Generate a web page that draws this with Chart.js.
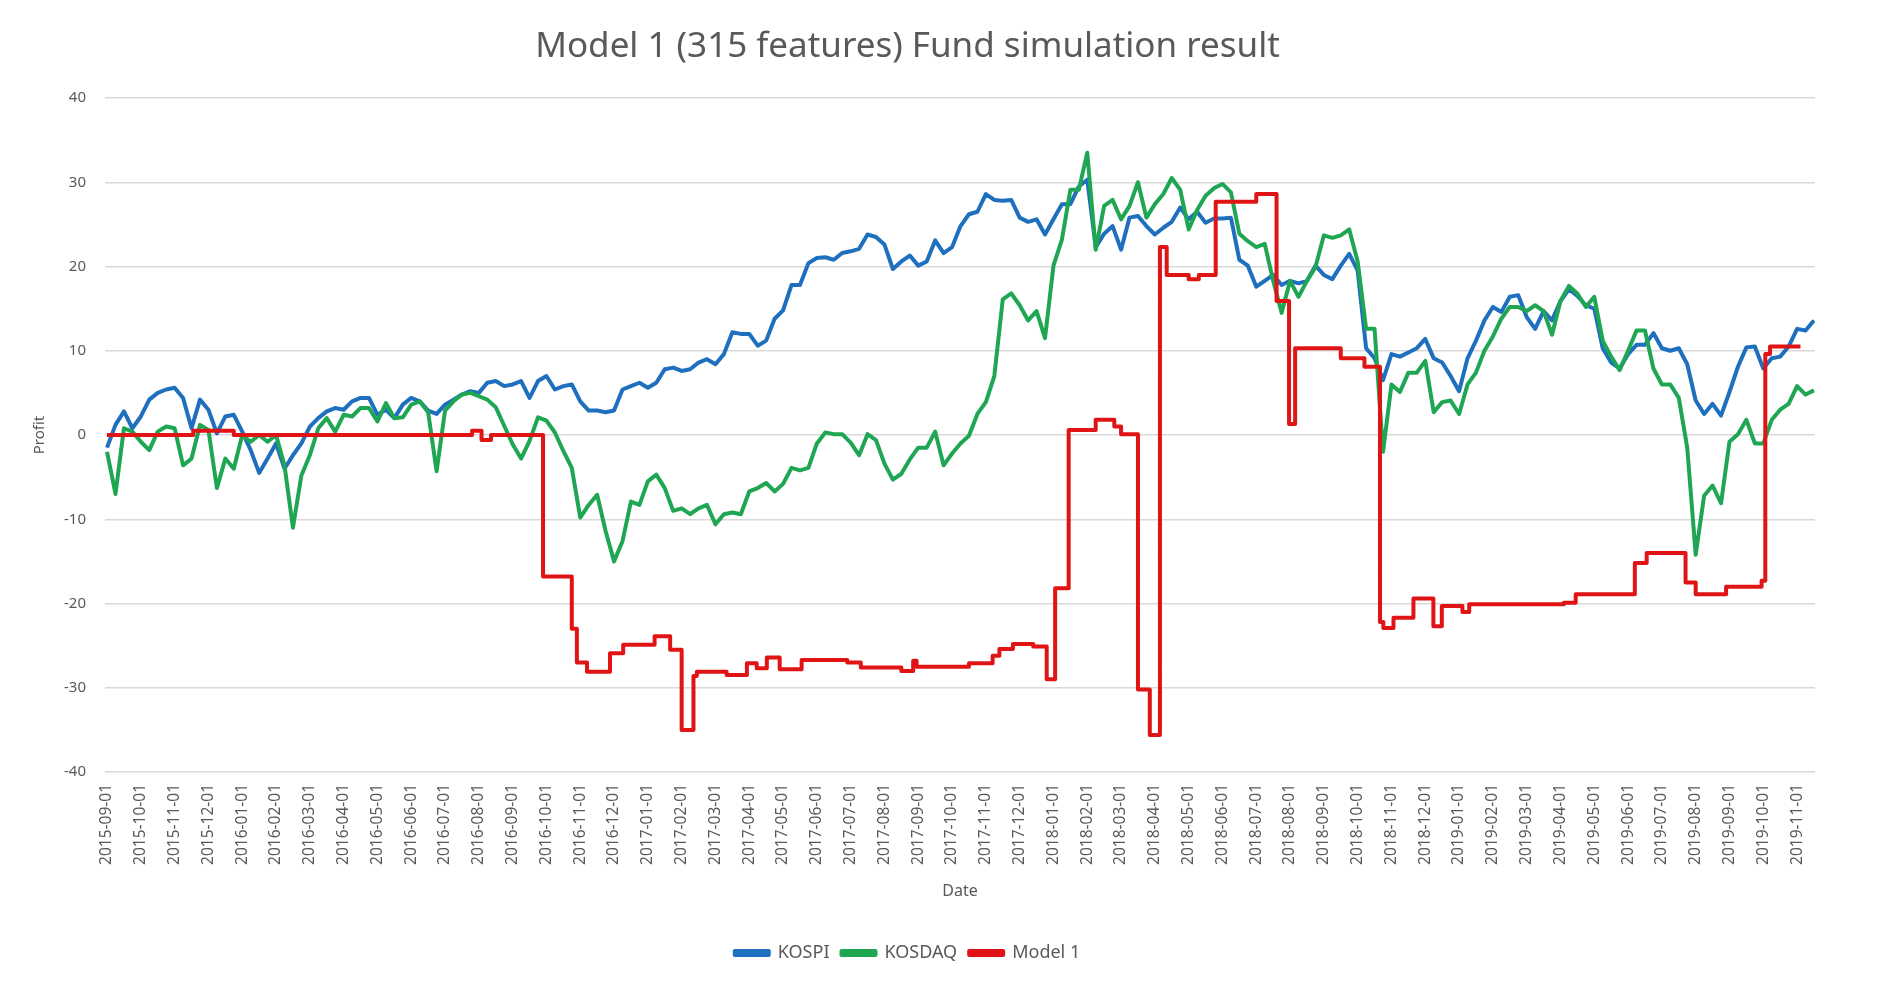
<!DOCTYPE html>
<html>
<head>
<meta charset="utf-8">
<title>Model 1 Fund simulation result</title>
<script src="https://cdn.jsdelivr.net/npm/chart.js@4.4.1/dist/chart.umd.min.js"></script>
<style>
    html, body { margin: 0; padding: 0; background: #fff; }
    #wrap { width: 1882px; height: 989px; position: relative; }
</style>
</head>
<body>
<div id="wrap"><canvas id="ctx-fund"></canvas></div>
<script>
// tick labels on the x axis, one per month
const monthLabels = [
    '2015-09-01', '2015-10-01', '2015-11-01', '2015-12-01',
    '2016-01-01', '2016-02-01', '2016-03-01', '2016-04-01', '2016-05-01', '2016-06-01',
    '2016-07-01', '2016-08-01', '2016-09-01', '2016-10-01', '2016-11-01', '2016-12-01',
    '2017-01-01', '2017-02-01', '2017-03-01', '2017-04-01', '2017-05-01', '2017-06-01',
    '2017-07-01', '2017-08-01', '2017-09-01', '2017-10-01', '2017-11-01', '2017-12-01',
    '2018-01-01', '2018-02-01', '2018-03-01', '2018-04-01', '2018-05-01', '2018-06-01',
    '2018-07-01', '2018-08-01', '2018-09-01', '2018-10-01', '2018-11-01', '2018-12-01',
    '2019-01-01', '2019-02-01', '2019-03-01', '2019-04-01', '2019-05-01', '2019-06-01',
    '2019-07-01', '2019-08-01', '2019-09-01', '2019-10-01', '2019-11-01'
];

// index series, read about once a week (4 samples per month from 2015-09-01)
const kospi = [
    -1.5, 1.2, 2.8, 0.8, 2.2, 4.2, 5.0, 5.4, 5.6, 4.4,
    0.8, 4.2, 3.0, 0.2, 2.2, 2.4, 0.4, -1.8, -4.5, -2.8,
    -1.0, -4.0, -2.4, -1.0, 1.0, 2.0, 2.8, 3.2, 3.0, 4.0,
    4.4, 4.4, 2.4, 3.0, 2.0, 3.6, 4.4, 4.0, 2.9, 2.5,
    3.6, 4.2, 4.8, 5.2, 5.0, 6.2, 6.4, 5.8, 6.0, 6.4,
    4.4, 6.4, 7.0, 5.4, 5.8, 6.0, 4.0, 2.9, 2.9, 2.7,
    2.9, 5.4, 5.8, 6.2, 5.6, 6.2, 7.8, 8.0, 7.6, 7.8,
    8.6, 9.0, 8.4, 9.6, 12.2, 12.0, 12.0, 10.6, 11.2, 13.8,
    14.8, 17.8, 17.8, 20.4, 21.0, 21.1, 20.8, 21.6, 21.8, 22.1,
    23.8, 23.5, 22.6, 19.7, 20.6, 21.3, 20.1, 20.6, 23.1, 21.6,
    22.3, 24.8, 26.2, 26.5, 28.6, 27.9, 27.8, 27.9, 25.8, 25.3,
    25.6, 23.8, 25.6, 27.4, 27.4, 29.5, 30.3, 22.3, 23.9, 24.8,
    22.0, 25.8, 26.0, 24.8, 23.8, 24.6, 25.3, 27.0, 25.6, 26.5,
    25.2, 25.7, 25.7, 25.8, 20.8, 20.1, 17.6, 18.3, 19.0, 17.8,
    18.3, 18.0, 18.3, 20.1, 19.0, 18.5, 20.1, 21.5, 19.5, 10.3,
    9.1, 6.5, 9.6, 9.3, 9.8, 10.3, 11.4, 9.1, 8.6, 7.0,
    5.2, 9.1, 11.2, 13.6, 15.2, 14.6, 16.4, 16.6, 14.0, 12.6,
    14.7, 13.6, 15.9, 17.3, 16.5, 15.4, 15.0, 10.3, 8.6, 7.9,
    9.6, 10.7, 10.7, 12.1, 10.3, 10.0, 10.3, 8.4, 4.1, 2.5,
    3.7, 2.3, 5.1, 8.1, 10.4, 10.5, 7.9, 9.1, 9.3, 10.5,
    12.6, 12.4, 13.6
];

const kosdaq = [
    -2.0, -7.0, 0.8, 0.4, -0.8, -1.8, 0.4, 1.0, 0.8, -3.6,
    -2.8, 1.2, 0.6, -6.3, -2.8, -4.0, 0.0, -0.8, 0.0, -0.8,
    0.0, -3.6, -11.0, -4.8, -2.4, 0.8, 2.0, 0.4, 2.4, 2.2,
    3.2, 3.2, 1.6, 3.8, 2.0, 2.1, 3.6, 4.0, 2.7, -4.3,
    2.9, 4.0, 4.8, 5.0, 4.6, 4.2, 3.3, 1.1, -1.1, -2.8,
    -0.7, 2.1, 1.7, 0.3, -1.9, -3.9, -9.8, -8.3, -7.1, -11.4,
    -15.0, -12.6, -7.9, -8.3, -5.5, -4.7, -6.3, -9.0, -8.7, -9.4,
    -8.7, -8.3, -10.6, -9.4, -9.2, -9.4, -6.7, -6.3, -5.7, -6.7,
    -5.8, -3.9, -4.2, -3.9, -1.0, 0.3, 0.1, 0.1, -0.9, -2.4,
    0.1, -0.6, -3.4, -5.3, -4.6, -2.9, -1.5, -1.5, 0.4, -3.6,
    -2.2, -1.0, -0.1, 2.5, 3.9, 7.0, 16.1, 16.8, 15.4, 13.6,
    14.7, 11.5, 20.1, 23.2, 29.1, 29.1, 33.5, 22.0, 27.2, 27.9,
    25.6, 27.2, 30.0, 25.8, 27.4, 28.6, 30.5, 29.1, 24.4, 26.7,
    28.4, 29.3, 29.8, 28.8, 23.9, 23.0, 22.3, 22.7, 18.3, 14.5,
    18.3, 16.4, 18.3, 19.9, 23.7, 23.4, 23.7, 24.4, 20.6, 12.6,
    12.6, -2.0, 6.0, 5.1, 7.4, 7.4, 8.8, 2.7, 3.9, 4.1,
    2.5, 6.0, 7.4, 10.0, 11.7, 13.8, 15.2, 15.2, 14.7, 15.4,
    14.7, 11.9, 15.9, 17.7, 16.8, 15.2, 16.4, 11.2, 9.3, 7.7,
    10.0, 12.4, 12.4, 7.9, 6.0, 6.0, 4.4, -1.5, -14.2, -7.2,
    -6.0, -8.1, -0.8, 0.1, 1.8, -1.0, -1.0, 1.8, 3.0, 3.7,
    5.8, 4.8, 5.3
];

// model 1 moves in steps: month position where a level starts, and the level
const modelMonths = [
    0, 2.55, 3.75, 10.8, 11.08, 11.36, 12.9, 13.75, 13.9, 14.2,
    14.88, 15.27, 16.2, 16.66, 17.0, 17.35, 17.45, 18.33, 18.93, 19.22,
    19.52, 19.9, 20.55, 21.9, 22.3, 23.5, 23.85, 23.95, 25.5, 26.2,
    26.4, 26.8, 27.4, 27.8, 28.05, 28.45, 29.25, 29.8, 30.0, 30.5,
    30.85, 31.15, 31.35, 32.0, 32.3, 32.8, 34.0, 34.6, 34.97, 35.15,
    36.5, 37.2, 37.66, 37.76, 38.06, 38.65, 39.24, 39.49, 40.1, 40.3,
    43.1, 43.45, 45.2, 45.55, 46.7, 47.0, 47.9, 48.95, 49.06, 49.2,
    50.1
];
const modelProfit = [
    0, 0.5, 0, 0.5, -0.6, 0, -16.8, -23.0, -27.0, -28.1,
    -25.9, -24.9, -23.9, -25.5, -35.0, -28.6, -28.1, -28.5, -27.1, -27.7,
    -26.4, -27.8, -26.7, -27.0, -27.6, -28.0, -26.8, -27.5, -27.1, -26.2,
    -25.4, -24.8, -25.1, -29.0, -18.2, 0.6, 1.8, 1.0, 0.1, -30.2,
    -35.6, 22.3, 19.0, 18.5, 19.0, 27.7, 28.6, 15.9, 1.3, 10.3,
    9.1, 8.1, -22.2, -22.9, -21.7, -19.4, -22.7, -20.3, -21.0, -20.1,
    -19.9, -18.9, -15.2, -14.0, -17.5, -18.9, -18.0, -17.3, 9.6, 10.5,
    10.5
];

const weekStep = 0.25;
const textGrey = '#595959';
const font = "'Noto Sans', 'Open Sans', sans-serif";

const weekly = (arr) => arr.map((v, i) => ({ x: i * weekStep, y: v }));
const modelPoints = modelMonths.map((m, i) => ({ x: m, y: modelProfit[i] }));

const ctx = document.getElementById('ctx-fund');

new Chart(ctx, {
    type: 'line',
    data: {
        datasets: [
            {
                label: 'KOSPI',
                data: weekly(kospi),
                borderColor: '#1f6fbf',
                backgroundColor: '#1f6fbf',
                order: 3
            },
            {
                label: 'KOSDAQ',
                data: weekly(kosdaq),
                borderColor: '#1fa653',
                backgroundColor: '#1fa653',
                order: 2
            },
            {
                label: 'Model 1',
                data: modelPoints,
                borderColor: '#e01414',
                backgroundColor: '#e01414',
                stepped: true,
                order: 1
            }
        ]
    },
    options: {
        responsive: true,
        maintainAspectRatio: false,
        devicePixelRatio: 1,
        animation: false,
        layout: {
            padding: { left: 0, right: 67, top: 0, bottom: 17 }
        },
        elements: {
            point: { radius: 0 },
            line: { borderWidth: 4, tension: 0, borderJoinStyle: 'round' }
        },
        plugins: {
            tooltip: { enabled: false },
            title: {
                display: true,
                text: 'Model 1 (315 features) Fund simulation result',
                color: textGrey,
                font: { family: font, size: 35, weight: 'normal', lineHeight: 1.2 },
                padding: { top: 26, bottom: 30 }
            },
            legend: {
                position: 'bottom',
                labels: {
                    color: textGrey,
                    font: { family: font, size: 18 },
                    boxWidth: 34,
                    boxHeight: 4,
                    padding: 12,
                    // keep KOSPI, KOSDAQ, Model 1 order even though drawing order differs
                    sort: (a, b) => a.datasetIndex - b.datasetIndex
                }
            }
        },
        scales: {
            x: {
                type: 'linear',
                min: -0.06,
                max: 50.53,
                afterBuildTicks: (scale) => {
                    scale.ticks = monthLabels.map((_, i) => ({ value: i }));
                },
                afterFit: (scale) => { scale.height = 160; },
                grid: { display: false, drawTicks: false },
                border: { display: false },
                ticks: {
                    autoSkip: false,
                    minRotation: 90,
                    maxRotation: 90,
                    padding: 12,
                    color: textGrey,
                    font: { family: font, size: 15.5 },
                    callback: (value) => monthLabels[value]
                },
                title: {
                    display: true,
                    text: 'Date',
                    color: textGrey,
                    font: { family: font, size: 16 },
                    padding: { top: 4, bottom: 31 }
                }
            },
            y: {
                min: -40,
                max: 40,
                afterFit: (scale) => { scale.width = 105; },
                grid: { color: '#d9d9d9', lineWidth: 1.5, drawTicks: false },
                border: { display: false },
                ticks: {
                    stepSize: 10,
                    padding: 19,
                    color: textGrey,
                    font: { family: font, size: 15 }
                },
                title: {
                    display: true,
                    text: 'Profit',
                    color: textGrey,
                    font: { family: font, size: 15 },
                    padding: { top: 31, bottom: 0 }
                }
            }
        }
    }
});
</script>
</body>
</html>
